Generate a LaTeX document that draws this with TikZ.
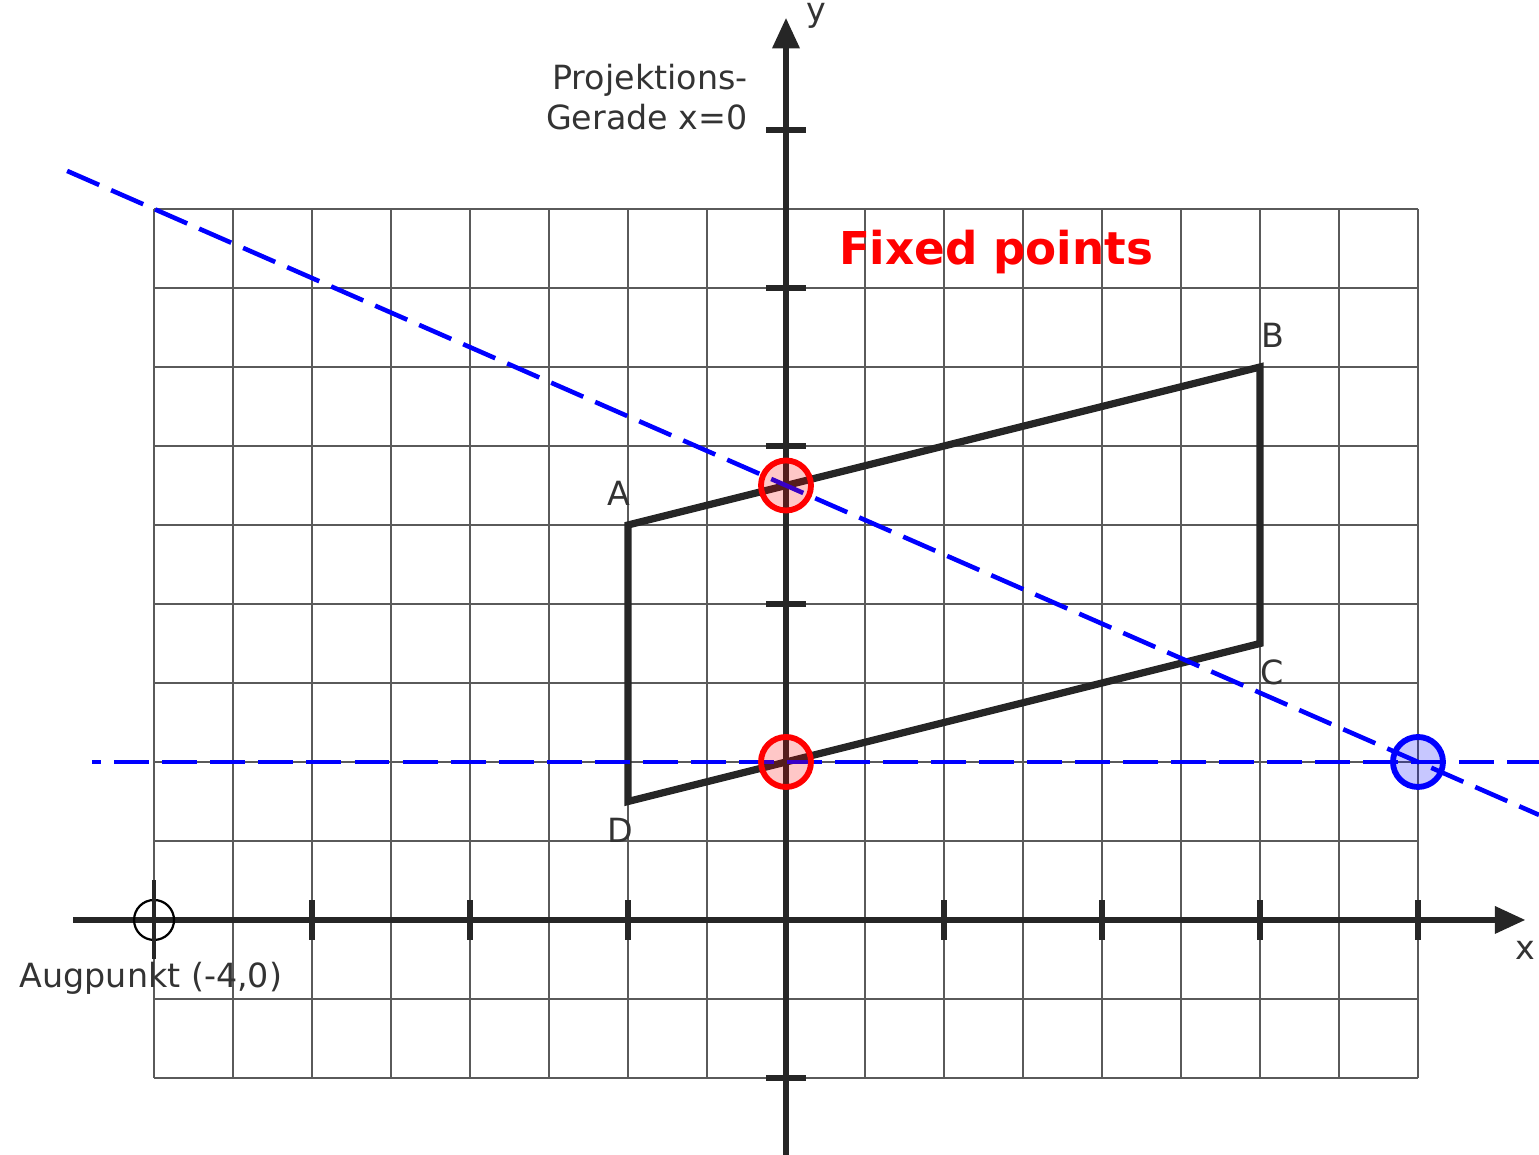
\documentclass[tikz,border=0pt]{standalone}
\usepackage{fontspec}
\setmainfont{DejaVu Sans}
\usetikzlibrary{arrows.meta}
\definecolor{axisgray}{RGB}{38,38,38}
\definecolor{gridgray}{RGB}{90,90,90}
\definecolor{labelgray}{RGB}{51,51,51}
\definecolor{fixred}{RGB}{255,0,0}
\definecolor{rayblue}{RGB}{0,0,255}
\tikzset{
  gridline/.style={gridgray,line width=0.65pt},
  axis/.style={axisgray,line width=2pt,-{Triangle[length=11pt,width=9.5pt]}},
  axistick/.style={axisgray,line width=2pt},
  figure/.style={axisgray,line width=2.6pt,line join=miter},
  ray/.style={rayblue,line width=1.65pt,dash pattern=on 12.6pt off 4.7pt},
  marker/.style={circle,line width=2.1pt,inner sep=0pt,minimum size=0.633cm,fill opacity=0.22},
  fixpoint/.style={marker,draw=fixred,fill=fixred},
  farpoint/.style={marker,draw=rayblue,fill=rayblue},
  eyepoint/.style={circle,draw=black,line width=0.8pt,inner sep=0pt,minimum size=0.506cm},
  lab/.style={font=\fontsize{12}{14.5}\selectfont,text=labelgray,inner sep=0pt},
  title/.style={font=\fontsize{16.3}{19}\selectfont\bfseries,text=fixred,inner sep=0pt},
}
\begin{document}
\begin{tikzpicture}[x=2cm,y=2cm]
  \path[use as bounding box] (-4.975,-1.487) rectangle (4.766,5.823);
  \draw[gridline,step=0.5] (-4,-1) grid (4,4.5);

  % axes
  \coordinate (xstart) at (-4.51,0);
  \coordinate (xend) at (4.68,0);
  \coordinate (ystart) at (0,-1.49);
  \coordinate (yend) at (0,5.71);
  \draw[axis] (xstart) -- (xend);
  \draw[axis] (ystart) -- (yend);
  \foreach \t in {-3,-2,-1,1,2,3,4}
    \draw[axistick] (\t,-0.125) -- (\t,0.125);
  \foreach \t in {-1,2,3,4,5}
    \draw[axistick] (-0.125,\t) -- (0.125,\t);

  % parallelogram
  \coordinate (A) at (-1,2.5);
  \coordinate (B) at (3,3.5);
  \coordinate (C) at (3,1.75);
  \coordinate (D) at (-1,0.75);
  \draw[figure] (A) -- (B) -- (C) -- (D) -- cycle;

  % projection rays
  \coordinate (rayL) at (-4.55,4.741);
  \coordinate (rayR) at (4.766,0.665);
  \coordinate (horL) at (-4.39,1);
  \coordinate (horR) at (4.766,1);
  \draw[ray] (rayL) -- (rayR);
  \draw[ray,dash phase=9.4pt] (horL) -- (horR);

  \node[fixpoint] (fixAB) at (0,2.75) {};
  \node[fixpoint] (fixDC) at (0,1) {};
  \node[farpoint] (vanish) at (4,1) {};
  \node[eyepoint] (aug) at (-4,0) {};
  \coordinate (augtop) at (-4,0.25);
  \coordinate (augbot) at (-4,-0.25);
  \draw[axistick,line width=1.5pt] (augtop) -- (augbot);

  \node[lab] (ylab) at (0.19,5.72) {y};
  \node[lab] (xlab) at (4.68,-0.19) {x};
  \node[lab,anchor=east,align=right] (projlab) at (-0.24,5.21) {Projektions-\\Gerade x=0};
  \node[lab] (auglab) at (-4.02,-0.367) {Augpunkt (-4,0)};
  \node[lab] (Alab) at (-1.06,2.70) {A};
  \node[lab] (Blab) at (3.08,3.70) {B};
  \node[lab] (Clab) at (3.08,1.57) {C};
  \node[lab] (Dlab) at (-1.05,0.57) {D};
  \node[title] (fixlab) at (1.33,4.23) {Fixed points};
\end{tikzpicture}
\end{document}
